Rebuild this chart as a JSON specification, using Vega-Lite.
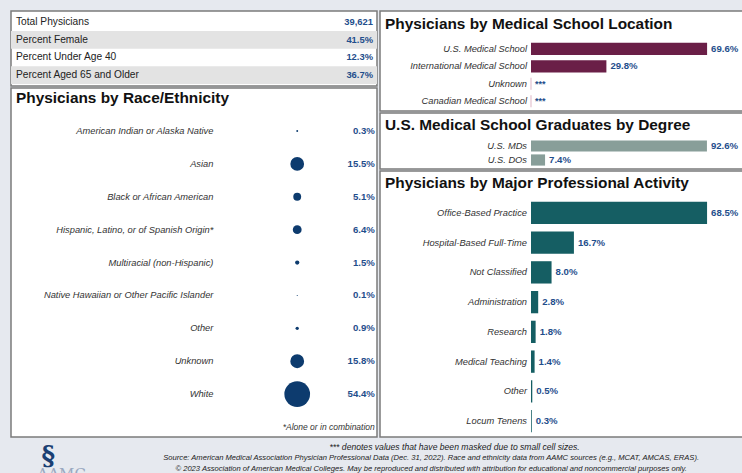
{
  "$schema": "https://vega.github.io/schema/vega-lite/v6.json",
  "background": "#e6e9ef",
  "padding": {"left": 10, "top": 10, "right": 0, "bottom": 0},
  "spacing": 0,
  "config": {
    "font": "Liberation Sans",
    "view": {"stroke": "#7b7b7b", "strokeWidth": 1.5, "fill": "white"},
    "axis": {"disable": true},
    "title": {"anchor": "start", "frame": "group", "baseline": "alphabetic", "dx": 5, "fontSize": 15.4, "font": "Liberation Sans", "fontWeight": "bold", "color": "#111111"}
  },
  "vconcat": [
    {
      "hconcat": [
        {
          "vconcat": [
            {
              "width": 366, "height": 75,
              "data": {"values": [
                {"row": 1, "label": "Total Physicians", "val": "39,621"},
                {"row": 2, "label": "Percent Female", "val": "41.5%"},
                {"row": 3, "label": "Percent Under Age 40", "val": "12.3%"},
                {"row": 4, "label": "Percent Aged 65 and Older", "val": "36.7%"}
              ]},
              "encoding": {
                "y": {"field": "row", "type": "ordinal", "scale": {"domain": [1, 2, 3, 4], "range": [2.3, 73], "paddingInner": 0, "paddingOuter": 0}}
              },
              "layer": [
                {
                  "transform": [{"filter": "datum.row % 2 == 0"}],
                  "mark": {"type": "rect", "color": "#e3e3e3"},
                  "encoding": {"x": {"datum": 0, "type": "quantitative", "scale": {"domain": [0, 1], "nice": false}}, "x2": {"datum": 1}}
                },
                {
                  "mark": {"type": "text", "align": "left", "baseline": "middle", "dx": 5, "fontSize": 10.2, "color": "#222222"},
                  "encoding": {"x": {"datum": 0, "type": "quantitative"}, "text": {"field": "label"}}
                },
                {
                  "mark": {"type": "text", "align": "right", "baseline": "middle", "dx": -4, "fontSize": 9.4, "fontWeight": "bold", "color": "#1f4e8c"},
                  "encoding": {"x": {"datum": 1, "type": "quantitative"}, "text": {"field": "val"}}
                }
              ]
            },
            {
              "width": 366, "height": 349,
              "title": {"text": "Physicians by Race/Ethnicity", "offset": -18},
              "layer": [
                {
                  "data": {"values": [
                    {"cat": "American Indian or Alaska Native", "pct": 0.3, "lbl": "0.3%"},
                    {"cat": "Asian", "pct": 15.5, "lbl": "15.5%"},
                    {"cat": "Black or African American", "pct": 5.1, "lbl": "5.1%"},
                    {"cat": "Hispanic, Latino, or of Spanish Origin*", "pct": 6.4, "lbl": "6.4%"},
                    {"cat": "Multiracial (non-Hispanic)", "pct": 1.5, "lbl": "1.5%"},
                    {"cat": "Native Hawaiian or Other Pacific Islander", "pct": 0.1, "lbl": "0.1%"},
                    {"cat": "Other", "pct": 0.9, "lbl": "0.9%"},
                    {"cat": "Unknown", "pct": 15.8, "lbl": "15.8%"},
                    {"cat": "White", "pct": 54.4, "lbl": "54.4%"}
                  ]},
                  "layer": [
                    {
                      "mark": {"type": "text", "align": "right", "baseline": "middle", "fontSize": 9.3, "fontStyle": "italic", "color": "#333333"},
                      "encoding": {
                        "x": {"datum": 55.3, "type": "quantitative", "scale": {"domain": [0, 100], "nice": false}},
                        "y": {"field": "cat", "type": "nominal", "sort": null, "scale": {"type": "point", "domain": ["American Indian or Alaska Native", "Asian", "Black or African American", "Hispanic, Latino, or of Spanish Origin*", "Multiracial (non-Hispanic)", "Native Hawaiian or Other Pacific Islander", "Other", "Unknown", "White", "_note"], "range": [43, 339], "padding": 0}},
                        "text": {"field": "cat"}
                      }
                    },
                    {
                      "mark": {"type": "circle", "opacity": 1, "color": "#0d3b6e"},
                      "encoding": {
                        "x": {"datum": 78.2, "type": "quantitative"},
                        "y": {"field": "cat", "type": "nominal"},
                        "size": {"field": "pct", "type": "quantitative", "scale": {"type": "linear", "domain": [0, 54.4], "range": [0, 660]}, "legend": null}
                      }
                    },
                    {
                      "mark": {"type": "text", "align": "right", "baseline": "middle", "fontSize": 9.6, "fontWeight": "bold", "color": "#1f4e8c"},
                      "encoding": {
                        "x": {"datum": 99.4, "type": "quantitative"},
                        "y": {"field": "cat", "type": "nominal"},
                        "text": {"field": "lbl"}
                      }
                    }
                  ]
                },
                {
                  "data": {"values": [{"cat": "_note", "txt": "*Alone or in combination"}]},
                  "mark": {"type": "text", "align": "right", "baseline": "middle", "fontSize": 8.5, "fontStyle": "italic", "color": "#333333"},
                  "encoding": {
                    "x": {"datum": 99.4, "type": "quantitative"},
                    "y": {"field": "cat", "type": "nominal"},
                    "text": {"field": "txt"}
                  }
                }
              ]
            }
          ],
          "spacing": 0
        },
        {
          "vconcat": [
            {
              "width": 364, "height": 100,
              "title": {"text": "Physicians by Medical School Location", "offset": -21},
              "data": {"values": [
                {"cat": "U.S. Medical School", "pct": 69.6, "lbl": "69.6%"},
                {"cat": "International Medical School", "pct": 29.8, "lbl": "29.8%"},
                {"cat": "Unknown", "pct": null, "lbl": "***"},
                {"cat": "Canadian Medical School", "pct": null, "lbl": "***"}
              ]},
              "encoding": {
                "y": {"field": "cat", "type": "nominal", "sort": null, "scale": {"domain": ["U.S. Medical School", "International Medical School", "Unknown", "Canadian Medical School"], "range": [29, 99], "paddingInner": 0.3, "paddingOuter": 0.15}}
              },
              "layer": [
                {
                  "transform": [{"filter": "datum.pct != null"}],
                  "mark": {"type": "bar", "color": "#6a1f47"},
                  "encoding": {"x": {"field": "pct", "type": "quantitative", "scale": {"domain": [0, 100], "range": [151, 404], "nice": false}}}
                },
                {
                  "transform": [{"filter": "datum.pct == null"}],
                  "mark": {"type": "tick", "orient": "vertical", "thickness": 1.2, "size": 12, "color": "#d7a6b9"},
                  "encoding": {"x": {"datum": 0, "type": "quantitative"}}
                },
                {
                  "mark": {"type": "text", "align": "right", "baseline": "middle", "dx": -4, "fontSize": 9.3, "fontStyle": "italic", "color": "#333333"},
                  "encoding": {"x": {"datum": 0, "type": "quantitative"}, "text": {"field": "cat"}}
                },
                {
                  "transform": [{"filter": "datum.pct != null"}],
                  "mark": {"type": "text", "align": "left", "baseline": "middle", "dx": 4, "fontSize": 9.6, "fontWeight": "bold", "color": "#1f4e8c"},
                  "encoding": {"x": {"field": "pct", "type": "quantitative"}, "text": {"field": "lbl"}}
                },
                {
                  "transform": [{"filter": "datum.pct == null"}],
                  "mark": {"type": "text", "align": "left", "baseline": "middle", "dx": 4, "fontSize": 9, "fontWeight": "bold", "color": "#1f4e8c"},
                  "encoding": {"x": {"datum": 0, "type": "quantitative"}, "text": {"field": "lbl"}}
                }
              ]
            },
            {
              "width": 364, "height": 56,
              "title": {"text": "U.S. Medical School Graduates by Degree", "offset": -20},
              "data": {"values": [
                {"cat": "U.S. MDs", "pct": 92.6, "lbl": "92.6%"},
                {"cat": "U.S. DOs", "pct": 7.4, "lbl": "7.4%"}
              ]},
              "encoding": {
                "y": {"field": "cat", "type": "nominal", "sort": null, "scale": {"domain": ["U.S. MDs", "U.S. DOs"], "range": [26, 54], "paddingInner": 0.2, "paddingOuter": 0.1}}
              },
              "layer": [
                {
                  "mark": {"type": "bar", "color": "#889e99"},
                  "encoding": {"x": {"field": "pct", "type": "quantitative", "scale": {"domain": [0, 100], "range": [151, 341], "nice": false}}}
                },
                {
                  "mark": {"type": "text", "align": "right", "baseline": "middle", "dx": -4, "fontSize": 9.3, "fontStyle": "italic", "color": "#333333"},
                  "encoding": {"x": {"datum": 0, "type": "quantitative"}, "text": {"field": "cat"}}
                },
                {
                  "mark": {"type": "text", "align": "left", "baseline": "middle", "dx": 4, "fontSize": 9.6, "fontWeight": "bold", "color": "#1f4e8c"},
                  "encoding": {"x": {"field": "pct", "type": "quantitative"}, "text": {"field": "lbl"}}
                }
              ]
            },
            {
              "width": 364, "height": 266,
              "title": {"text": "Physicians by Major Professional Activity", "offset": -20},
              "data": {"values": [
                {"cat": "Office-Based Practice", "pct": 68.5, "lbl": "68.5%"},
                {"cat": "Hospital-Based Full-Time", "pct": 16.7, "lbl": "16.7%"},
                {"cat": "Not Classified", "pct": 8.0, "lbl": "8.0%"},
                {"cat": "Administration", "pct": 2.8, "lbl": "2.8%"},
                {"cat": "Research", "pct": 1.8, "lbl": "1.8%"},
                {"cat": "Medical Teaching", "pct": 1.4, "lbl": "1.4%"},
                {"cat": "Other", "pct": 0.5, "lbl": "0.5%"},
                {"cat": "Locum Tenens", "pct": 0.3, "lbl": "0.3%"}
              ]},
              "encoding": {
                "y": {"field": "cat", "type": "nominal", "sort": null, "scale": {"domain": ["Office-Based Practice", "Hospital-Based Full-Time", "Not Classified", "Administration", "Research", "Medical Teaching", "Other", "Locum Tenens"], "range": [27, 265], "paddingInner": 0.25, "paddingOuter": 0.125}}
              },
              "layer": [
                {
                  "mark": {"type": "bar", "color": "#155e63"},
                  "encoding": {"x": {"field": "pct", "type": "quantitative", "scale": {"domain": [0, 100], "range": [151, 408], "nice": false}}}
                },
                {
                  "mark": {"type": "text", "align": "right", "baseline": "middle", "dx": -4, "fontSize": 9.3, "fontStyle": "italic", "color": "#333333"},
                  "encoding": {"x": {"datum": 0, "type": "quantitative"}, "text": {"field": "cat"}}
                },
                {
                  "mark": {"type": "text", "align": "left", "baseline": "middle", "dx": 4, "fontSize": 9.6, "fontWeight": "bold", "color": "#1f4e8c"},
                  "encoding": {"x": {"field": "pct", "type": "quantitative"}, "text": {"field": "lbl"}}
                }
              ]
            }
          ],
          "spacing": 0
        }
      ],
      "spacing": 1
    },
    {
      "width": 732, "height": 37,
      "view": {"stroke": null, "fill": null},
      "encoding": {
        "y": {"field": "line", "type": "ordinal", "scale": {"type": "point", "domain": [1, 2, 3], "range": [9, 31], "padding": 0}}
      },
      "layer": [
        {
          "data": {"values": [
            {"line": 1, "t": "*** denotes values that have been masked due to small cell sizes."}
          ]},
          "mark": {"type": "text", "align": "center", "baseline": "middle", "fontSize": 8.6, "fontStyle": "italic", "font": "Liberation Sans", "color": "#222222"},
          "encoding": {
            "x": {"datum": 60.6, "type": "quantitative", "scale": {"domain": [0, 100], "nice": false}},
            "text": {"field": "t"}
          }
        },
        {
          "data": {"values": [
            {"line": 2, "t": "Source: American Medical Association Physician Professional Data (Dec. 31, 2022). Race and ethnicity data from AAMC sources (e.g., MCAT, AMCAS, ERAS)."},
            {"line": 3, "t": "© 2023 Association of American Medical Colleges. May be reproduced and distributed with attribution for educational and noncommercial purposes only."}
          ]},
          "mark": {"type": "text", "align": "center", "baseline": "middle", "fontSize": 7.6, "fontStyle": "italic", "font": "Liberation Sans", "color": "#222222"},
          "encoding": {
            "x": {"datum": 57.4, "type": "quantitative"},
            "text": {"field": "t"}
          }
        },
        {
          "data": {"values": [{"line": 2, "t": "§"}]},
          "mark": {"type": "text", "align": "center", "baseline": "middle", "dy": -2, "fontSize": 26, "font": "DejaVu Serif", "fontWeight": "bold", "color": "#1a3f73"},
          "encoding": {
            "x": {"datum": 5.1, "type": "quantitative"},
            "text": {"field": "t"}
          }
        },
        {
          "data": {"values": [{"line": 3, "t": "AAMC"}]},
          "mark": {"type": "text", "align": "left", "baseline": "middle", "dy": 5, "fontSize": 15, "font": "DejaVu Serif", "color": "#9aa8c0"},
          "encoding": {
            "x": {"datum": 3.6, "type": "quantitative"},
            "text": {"field": "t"}
          }
        }
      ]
    }
  ]
}
